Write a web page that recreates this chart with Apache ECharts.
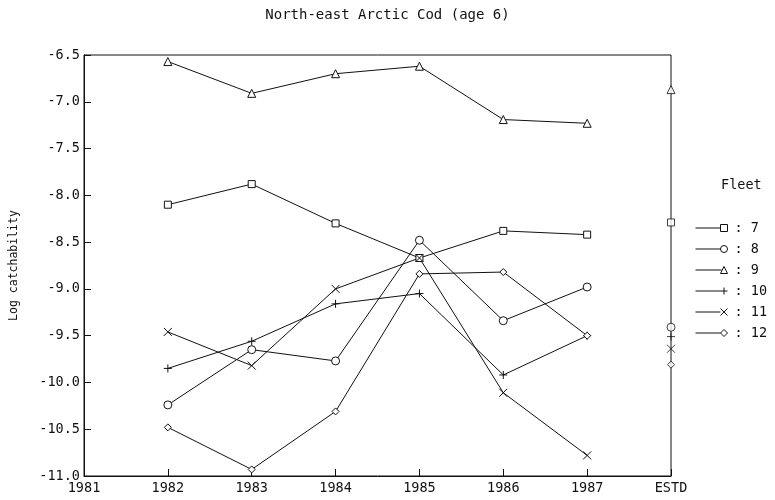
<!DOCTYPE html>
<html>
<head>
<meta charset="utf-8">
<script src="https://cdn.jsdelivr.net/npm/echarts@6/dist/echarts.min.js"></script>
<style>html,body{margin:0;padding:0;background:#fff;}#chart{width:775px;height:500px;}</style>
</head>
<body>
<div id="chart"></div>
<script>
// Data
const categories = ['1981', '1982', '1983', '1984', '1985', '1986', '1987', 'ESTD'];
const fleets = ['7', '8', '9', '10', '11', '12'];
// values for 1982..1987
const fleet7  = [-8.10, -7.88, -8.30, -8.67, -8.38, -8.42];
const fleet8  = [-10.24, -9.65, -9.77, -8.48, -9.34, -8.98];
const fleet9  = [-6.57, -6.91, -6.70, -6.62, -7.19, -7.23];
const fleet10 = [-9.85, -9.56, -9.16, -9.05, -9.92, -9.50];
const fleet11 = [-9.46, -9.82, -9.00, -8.67, -10.11, -10.78];
const fleet12 = [-10.48, -10.93, -10.31, -8.84, -8.82, -9.50];
// ESTD values per fleet (7..12)
const estd = [-8.29, -9.41, -6.87, -9.51, -9.64, -9.81];
const yTicks = [-11.0, -10.5, -10.0, -9.5, -9.0, -8.5, -8.0, -7.5, -7.0, -6.5];

const FONT = 'DejaVu Sans Mono';
const INK = '#111';
const seriesValues = [fleet7, fleet8, fleet9, fleet10, fleet11, fleet12];
const symbols = [
  'rect',
  'circle',
  'triangle',
  'path://M5,0L5,10M0,5L10,5',
  'path://M0,0L10,10M10,0L0,10',
  'diamond'
];
const legendIcons = [
  'path://M0,6L25,6M25,2.5L32,2.5L32,9.5L25,9.5Z',
  'path://M0,6L25,6M32,6A3.5,3.5,0,1,1,25,6A3.5,3.5,0,1,1,32,6Z',
  'path://M0,6L26,6M28.5,2.5L32,9.5L25,9.5Z',
  'path://M0,6L32,6M28.5,2.5L28.5,9.5',
  'path://M0,6L25,6M25,2.5L32,9.5M32,2.5L25,9.5',
  'path://M0,6L25,6M28.5,2.5L32,6L28.5,9.5L25,6Z'
];
const symSizes = [7, 8, 8, 8, 8, 7];

const series = [];
fleets.forEach((f, i) => {
  series.push({
    name: f,
    type: 'line',
    data: [null].concat(seriesValues[i]).concat([null]),
    symbol: symbols[i],
    symbolSize: symSizes[i],
    showAllSymbol: true,
    connectNulls: false,
    lineStyle: { color: INK, width: 1 },
    itemStyle: { color: '#fff', borderColor: INK, borderWidth: 1 },
    emphasis: { disabled: true },
    animation: false,
    z: 2
  });
});
fleets.forEach((f, i) => {
  const d = categories.map(() => null);
  d[categories.length - 1] = estd[i];
  series.push({
    name: 'ESTD ' + f,
    type: 'scatter',
    data: d,
    symbol: symbols[i],
    symbolSize: symSizes[i],
    itemStyle: { color: '#fff', borderColor: INK, borderWidth: 1 },
    emphasis: { disabled: true },
    animation: false,
    z: 3
  });
});

const chart = echarts.init(document.getElementById('chart'), null, { renderer: 'canvas' });
chart.setOption({
  backgroundColor: '#fff',
  animation: false,
  title: [
    {
      text: 'North-east Arctic Cod (age 6)',
      left: 'center',
      top: 3,
      textStyle: { fontFamily: FONT, fontSize: 14, fontWeight: 'normal', color: INK }
    },
    {
      text: 'Fleet',
      left: 716,
      top: 173,
      textStyle: { fontFamily: FONT, fontSize: 13.5, fontWeight: 'normal', color: INK }
    }
  ],
  legend: {
    orient: 'vertical',
    left: 690,
    top: 216,
    itemWidth: 32,
    itemHeight: 8,
    itemGap: 7,
    data: fleets.map((f, i) => ({ name: f, icon: legendIcons[i] })),
    formatter: n => ': ' + n,
    itemStyle: { color: '#fff', borderColor: INK, borderWidth: 1 },
    textStyle: { fontFamily: FONT, fontSize: 13.5, color: INK, lineHeight: 14, padding: [0, 0, 0, 2] },
    selectedMode: false
  },
  grid: {
    left: 80, right: 104, top: 55, bottom: 24,
    show: true, borderColor: INK, borderWidth: 1, containLabel: false
  },
  xAxis: {
    type: 'category',
    data: categories,
    boundaryGap: false,
    axisLine: { show: true, lineStyle: { color: INK, width: 1 } },
    axisTick: { show: true, inside: true, length: 7, alignWithLabel: true, lineStyle: { color: INK } },
    axisLabel: { fontFamily: FONT, fontSize: 13.5, color: INK, margin: 5, interval: 0 },
    splitLine: { show: false }
  },
  yAxis: {
    type: 'value',
    min: yTicks[0],
    max: yTicks[yTicks.length - 1],
    interval: 0.5,
    name: 'Log catchability',
    nameLocation: 'middle',
    nameRotate: 90,
    nameGap: 64,
    nameTextStyle: { fontFamily: FONT, fontSize: 11.5, color: INK },
    axisLine: { show: true, lineStyle: { color: INK, width: 1 } },
    axisTick: { show: true, inside: true, length: 7, lineStyle: { color: INK } },
    axisLabel: { fontFamily: FONT, fontSize: 13.5, color: INK, margin: 4, formatter: v => v.toFixed(1) },
    splitLine: { show: false }
  },
  series: series
});
</script>
</body>
</html>
